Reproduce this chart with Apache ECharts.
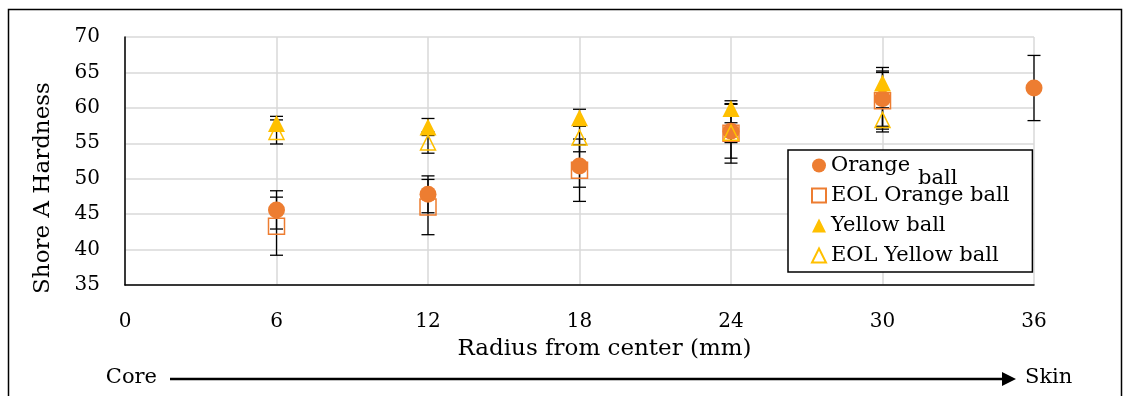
<!DOCTYPE html>
<html>
<head>
<meta charset="utf-8">
<title>Shore A Hardness</title>
<script src="https://cdn.jsdelivr.net/npm/echarts@6/dist/echarts.min.js"></script>
<style>
  body { margin: 0; background: #fff; }
  #main { width: 1131px; height: 396px; }
</style>
</head>
<body>
<div id="main"></div>
<script>
// radius positions (mm)
var radius = [6, 12, 18, 24, 30, 36];
var xTicks = [0, 6, 12, 18, 24, 30, 36];

// mean hardness + error bar half-widths
var orange = [45.6, 47.8, 51.8, 56.7, 61.3, 62.8];
var orangeErr = [2.7, 2.6, 3.0, 3.8, 3.9, 4.6];
var eolOrange = [43.3, 46.0, 51.2, 56.4, 61.0];
var eolOrangeErr = [4.1, 3.9, 4.4, 4.2, 4.0];
var yellow = [57.8, 57.3, 58.6, 59.9, 63.5];
var yellowErr = [1.0, 1.2, 1.2, 1.1, 2.2];
var eolYellow = [56.6, 55.1, 55.8, 56.5, 58.3];
var eolYellowErr = [1.7, 1.5, 2.0, 1.4, 1.7];

var FONT = 'DejaVu Serif';
var ORANGE = '#ED7D31';
var YELLOW = '#FFC000';

function pts(ys) {
  return ys.map(function (v, i) { return [radius[i], v]; });
}
function errPts(ys, es) {
  return ys.map(function (v, i) { return [radius[i], v, es[i]]; });
}

// vertical error bar with caps
function errRender(params, api) {
  var x = api.value(0), y = api.value(1), e = api.value(2);
  var hi = api.coord([x, y + e]);
  var lo = api.coord([x, y - e]);
  var c = 6.5;
  var st = { stroke: '#000', lineWidth: 1.3 };
  return {
    type: 'group',
    children: [
      { type: 'line', shape: { x1: hi[0], y1: hi[1], x2: lo[0], y2: lo[1] }, style: st },
      { type: 'line', shape: { x1: hi[0] - c, y1: hi[1], x2: hi[0] + c, y2: hi[1] }, style: st },
      { type: 'line', shape: { x1: lo[0] - c, y1: lo[1], x2: lo[0] + c, y2: lo[1] }, style: st }
    ]
  };
}

function errSeries(name, ys, es) {
  return {
    name: name,
    type: 'custom',
    renderItem: errRender,
    data: errPts(ys, es),
    encode: { x: 0, y: 1 },
    silent: true,
    z: 1
  };
}

var chart = echarts.init(document.getElementById('main'));

var option = {
  animation: false,
  textStyle: { fontFamily: FONT, color: '#000' },
  grid: { left: 125, right: 97, top: 37, bottom: 111 },
  legend: {
    data: ['Orange ball', 'EOL Orange ball', 'Yellow ball', 'EOL Yellow ball'],
    orient: 'vertical',
    left: 788,
    top: 150,
    padding: [5, 23, 6, 23],
    itemGap: 9,
    itemWidth: 14,
    itemHeight: 14,
    backgroundColor: '#fff',
    borderColor: '#000',
    borderWidth: 1.5,
    borderRadius: 0,
    textStyle: { fontFamily: FONT, fontSize: 21, color: '#000', width: 190 },
    formatter: function (name) { return name === 'Orange ball' ? 'Orange' : name; }
  },
  xAxis: {
    type: 'value',
    min: 0,
    max: 36,
    interval: 6,
    name: 'Radius from center (mm)',
    nameLocation: 'middle',
    nameGap: 53,
    nameTextStyle: { fontFamily: FONT, fontSize: 23, color: '#000', padding: [0, 0, 0, 50] },
    axisLine: { lineStyle: { color: '#000', width: 1.5 } },
    axisTick: { show: false },
    axisLabel: {
      fontFamily: FONT, fontSize: 20, color: '#000', margin: 27,
      formatter: function (v) { return xTicks.indexOf(v) >= 0 ? String(v) : ''; }
    },
    splitLine: { show: true, lineStyle: { color: '#d9d9d9', width: 1.5 } }
  },
  yAxis: {
    type: 'value',
    min: 35,
    max: 70,
    interval: 5,
    name: 'Shore A Hardness',
    nameLocation: 'middle',
    nameGap: 70,
    nameTextStyle: { fontFamily: FONT, fontSize: 23, color: '#000', padding: [0, 54, 0, 0] },
    axisLine: { show: true, lineStyle: { color: '#000', width: 1.5 } },
    axisTick: { show: false },
    axisLabel: { fontFamily: FONT, fontSize: 20, color: '#000', margin: 25 },
    splitLine: { show: true, lineStyle: { color: '#d9d9d9', width: 1.5 } }
  },
  series: [
    errSeries('Orange ball err', orange, orangeErr),
    errSeries('EOL Orange ball err', eolOrange, eolOrangeErr),
    errSeries('Yellow ball err', yellow, yellowErr),
    errSeries('EOL Yellow ball err', eolYellow, eolYellowErr),
    {
      name: 'Orange ball', type: 'scatter', symbol: 'circle', symbolSize: 17, z: 3,
      itemStyle: { color: ORANGE, opacity: 1 },
      data: pts(orange)
    },
    {
      name: 'EOL Orange ball', type: 'scatter', symbol: 'rect', symbolSize: 16, z: 3,
      itemStyle: { color: 'rgba(255,255,255,0)', borderColor: ORANGE, borderWidth: 1.5, opacity: 1 },
      data: pts(eolOrange)
    },
    {
      name: 'Yellow ball', type: 'scatter', symbol: 'triangle', symbolSize: 17, z: 3,
      itemStyle: { color: YELLOW, opacity: 1 },
      data: pts(yellow)
    },
    {
      name: 'EOL Yellow ball', type: 'scatter', symbol: 'triangle', symbolSize: 15, z: 3,
      itemStyle: { color: 'rgba(255,255,255,0)', borderColor: YELLOW, borderWidth: 1.5, opacity: 1 },
      data: pts(eolYellow)
    }
  ],
  graphic: [
    // outer frame
    {
      type: 'rect', z: 0, silent: true,
      shape: { x: 8.5, y: 9.5, width: 1113, height: 420 },
      style: { fill: 'none', stroke: '#000', lineWidth: 1.5 }
    },
    // the wrapped word in the first legend entry
    {
      type: 'text', z: 100, silent: true,
      style: { text: 'ball', x: 918, y: 179, fontFamily: FONT, fontSize: 21, fill: '#000', verticalAlign: 'middle' }
    },
    // core -> skin arrow
    {
      type: 'text', silent: true,
      style: { text: 'Core', x: 157, y: 378, fontFamily: FONT, fontSize: 21, fill: '#000', align: 'right', verticalAlign: 'middle' }
    },
    {
      type: 'line', silent: true,
      shape: { x1: 170, y1: 379, x2: 1004, y2: 379 },
      style: { stroke: '#000', lineWidth: 2.5 }
    },
    {
      type: 'polygon', silent: true,
      shape: { points: [[1002, 372], [1016, 379], [1002, 386]] },
      style: { fill: '#000' }
    },
    {
      type: 'text', silent: true,
      style: { text: 'Skin', x: 1025, y: 378, fontFamily: FONT, fontSize: 21, fill: '#000', verticalAlign: 'middle' }
    }
  ]
};

chart.setOption(option);
</script>
</body>
</html>
